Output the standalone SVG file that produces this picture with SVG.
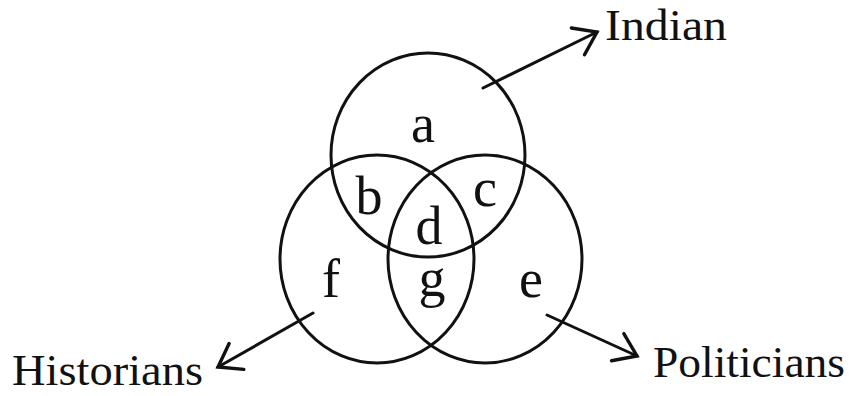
<svg xmlns="http://www.w3.org/2000/svg" width="852" height="396" viewBox="0 0 852 396">
<style>
.set{fill:none;stroke:#111;stroke-width:3}
.reg{font-family:"Liberation Serif","DejaVu Serif",serif;font-size:54px;fill:#111;text-anchor:middle}
.lbl{font-family:"Liberation Serif","DejaVu Serif",serif;font-size:44px;fill:#111}
.conn{fill:none;stroke:#111;stroke-width:3;stroke-linecap:round}
</style>
<defs>
<marker id="arr" markerUnits="userSpaceOnUse" markerWidth="30" markerHeight="34" viewBox="-22 -16 26 32" refX="0" refY="0" orient="auto">
<path d="M-20,-14 L0,0 L-20,14" fill="none" stroke="#111" stroke-width="3.2" stroke-linecap="round" stroke-linejoin="miter"/>
</marker>
</defs>
<rect width="852" height="396" fill="#fff"/>
<g id="indian">
<ellipse class="set" cx="428" cy="155" rx="97" ry="102"/>
<text class="lbl" x="605" y="40" textLength="122" lengthAdjust="spacingAndGlyphs">Indian</text>
</g>
<g id="historians">
<ellipse class="set" cx="377" cy="259" rx="97" ry="104"/>
<text class="lbl" x="12" y="385" textLength="191" lengthAdjust="spacingAndGlyphs">Historians</text>
</g>
<g id="politicians">
<ellipse class="set" cx="485" cy="259" rx="97" ry="104"/>
<text class="lbl" x="653" y="377" textLength="192" lengthAdjust="spacingAndGlyphs">Politicians</text>
</g>
<g id="regions">
<text class="reg" x="423" y="142">a</text>
<text class="reg" x="369" y="214">b</text>
<text class="reg" x="485" y="206">c</text>
<text class="reg" x="429" y="244">d</text>
<text class="reg" x="531" y="297">e</text>
<text class="reg" x="331" y="297">f</text>
<text class="reg" x="432" y="296">g</text>
</g>
<g id="connectors">
<line class="conn" x1="483" y1="88" x2="597" y2="32" marker-end="url(#arr)"/>
<line class="conn" x1="313" y1="313" x2="218" y2="367" marker-end="url(#arr)"/>
<line class="conn" x1="547" y1="315" x2="637" y2="356" marker-end="url(#arr)"/>
</g>
</svg>
